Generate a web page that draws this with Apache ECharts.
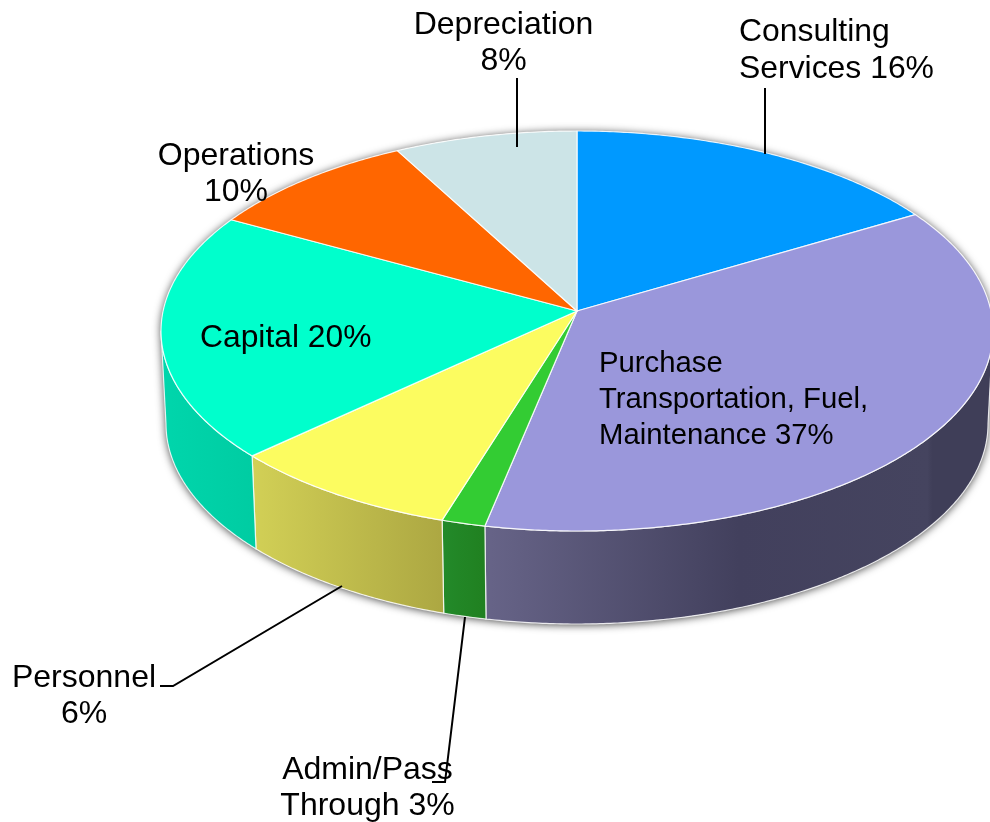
<!DOCTYPE html>
<html>
<head>
<meta charset="utf-8">
<style>html,body{margin:0;padding:0;background:#fff;overflow:hidden}#c{width:990px;height:822px}</style>
<script src="https://cdn.jsdelivr.net/npm/echarts@6/dist/echarts.min.js"></script>
</head>
<body>
<div id="c"></div>
<script>
// Data: printed labels and the slice shares as actually drawn in the picture
const categories = ['Consulting\nServices', 'Purchase\nTransportation, Fuel,\nMaintenance', 'Admin/Pass\nThrough', 'Personnel', 'Capital', 'Operations', 'Depreciation'];
const labelPercents = [16, 37, 3, 6, 20, 10, 8];
const drawnShares = [15.1, 38.4, 1.7, 9.0, 20.1, 8.5, 7.1];

// Styles
const topColors = ['#0099FF', '#9A97DB', '#33CC33', '#FCFC60', '#00FFCC', '#FF6600', '#CCE4E7'];
const wallStops = [
  null,
  [[0, '#676488'], [0.5, '#42405D'], [0.87, '#45445F'], [0.88, '#3F3E58'], [1, '#3F3E58']],
  [[0, '#238A2A'], [1, '#208020']],
  [[0, '#D2D056'], [1, '#ACA742']],
  [[0, '#00D6AC'], [1, '#00CCA2']],
  null,
  null
];
const labelText = [
  'Consulting\nServices 16%', 'Purchase\nTransportation, Fuel,\nMaintenance 37%', 'Admin/Pass\nThrough 3%',
  'Personnel\n6%', 'Capital 20%', 'Operations\n10%', 'Depreciation\n8%'
];
const labelLayout = [
  {x: 739, y: 51, align: 'left', size: 31.9, lh: 37},
  {x: 599, y: 400, align: 'left', size: 29.3, lh: 36},
  {x: 367.5, y: 788, align: 'center', size: 32, lh: 36},
  {x: 84, y: 696, align: 'center', size: 32, lh: 36},
  {x: 200, y: 338, align: 'left', size: 31.8, lh: 36},
  {x: 236, y: 174, align: 'center', size: 32, lh: 36},
  {x: 503.5, y: 43, align: 'center', size: 32, lh: 36}
];
const leaders = [
  [[765, 88], [765, 154]],
  [[517, 78], [517, 147]],
  [[160, 686], [173, 686], [342, 586]],
  [[432, 782], [445, 782], [465, 617]]
];

// Pie geometry
const apex = [577, 311];
const topE = {cx: 577, cy: 331, rx: 416, ry: 200};
const botE = {cx: 577, cy: 424, rx: 411, ry: 200};

function pt(e, deg) {
  const t = deg * Math.PI / 180;
  return [e.cx + e.rx * Math.sin(t), e.cy - e.ry * Math.cos(t)];
}
function arc(e, a, b) {
  const pts = [], n = Math.max(2, Math.ceil(Math.abs(b - a) * 2));
  for (let i = 0; i <= n; i++) pts.push(pt(e, a + (b - a) * i / n));
  return pts;
}
const total = drawnShares.reduce((s, v) => s + v, 0);

function renderSlice(params, api) {
  const i = params.dataIndex;
  let before = 0;
  for (let k = 0; k < i; k++) before += drawnShares[k];
  const a0 = before / total * 360;
  const a1 = (before + api.value(0)) / total * 360;
  const children = [];
  if (i === 0) {
    const outline = arc(topE, -90, 90).concat(arc(botE, 90, 270));
    children.push({
      type: 'polygon', shape: {points: outline},
      style: {fill: '#ffffff', shadowBlur: 8, shadowColor: 'rgba(0,0,0,0.75)', shadowOffsetY: 1}
    });
  }
  const w0 = Math.max(a0, 90), w1 = Math.min(a1, 270);
  if (w1 > w0 && wallStops[i]) {
    children.push({
      type: 'polygon',
      shape: {points: arc(topE, w0, w1).concat(arc(botE, w1, w0))},
      style: {
        fill: {type: 'linear', x: 0, y: 0, x2: 1, y2: 0,
          colorStops: wallStops[i].map(s => ({offset: s[0], color: s[1]}))},
        stroke: 'rgba(255,255,255,0.8)', lineWidth: 1.2, lineJoin: 'round'
      }
    });
  }
  children.push({
    type: 'polygon',
    shape: {points: [apex].concat(arc(topE, a0, a1))},
    style: {fill: topColors[i], stroke: 'rgba(255,255,255,0.85)', lineWidth: 1.2, lineJoin: 'round'}
  });
  return {type: 'group', children};
}

const labelGraphics = labelText.map((t, i) => ({
  type: 'text', z: 10, x: labelLayout[i].x, y: labelLayout[i].y,
  style: {
    text: t, fill: '#000', font: labelLayout[i].size + 'px "Liberation Sans", Arial, sans-serif',
    align: labelLayout[i].align, verticalAlign: 'middle', lineHeight: labelLayout[i].lh
  }
}));
const leaderGraphics = leaders.map(p => ({
  type: 'polyline', z: 11, shape: {points: p},
  style: {stroke: '#000', lineWidth: 2, fill: null}
}));

const chart = echarts.init(document.getElementById('c'), null, {renderer: 'canvas'});
chart.setOption({
  animation: false,
  backgroundColor: '#fff',
  graphic: {elements: labelGraphics.concat(leaderGraphics)},
  series: [{
    type: 'custom', coordinateSystem: 'none', silent: true,
    name: 'Share', renderItem: renderSlice,
    data: drawnShares.map((v, i) => ({name: categories[i], value: [v, labelPercents[i]]})),
    encode: {value: 0}
  }]
});
</script>
</body>
</html>
